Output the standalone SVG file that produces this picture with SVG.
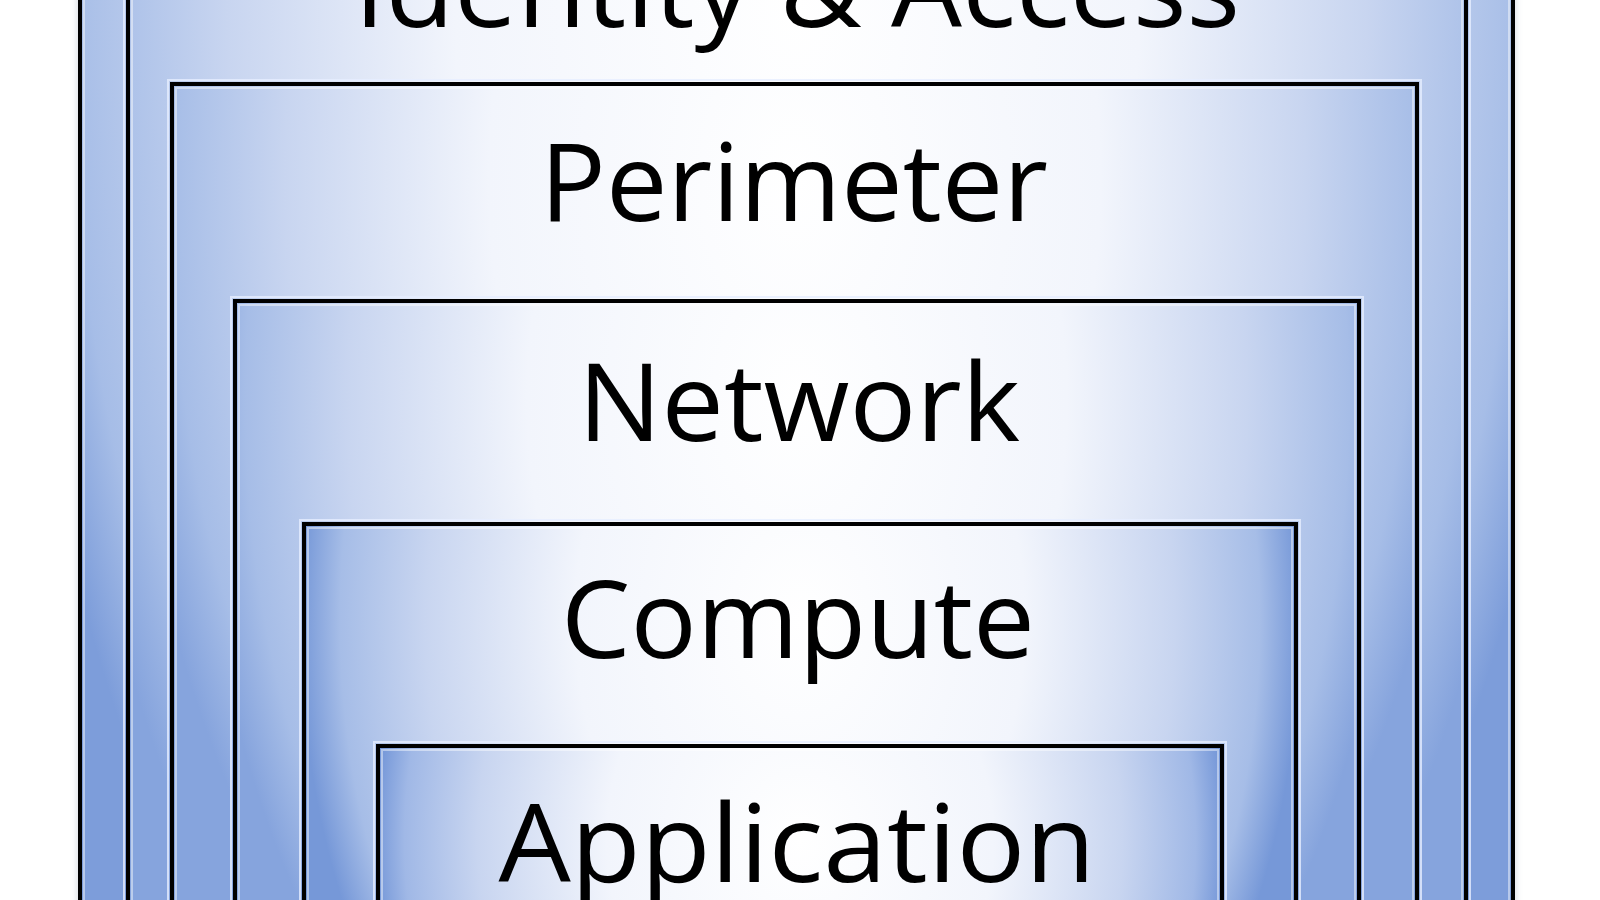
<svg xmlns="http://www.w3.org/2000/svg" width="1600" height="900" viewBox="0 0 1600 900">
  <defs>
    <radialGradient id="gOuter" gradientUnits="userSpaceOnUse" cx="0" cy="0" r="1" gradientTransform="translate(796 0) scale(790 1400)">
      <stop offset="0" stop-color="#ffffff"/><stop offset="0.45" stop-color="#f2f5fc"/><stop offset="0.75" stop-color="#c8d5f0"/><stop offset="0.92" stop-color="#a6bde7"/><stop offset="1" stop-color="#7d9dda"/>
    </radialGradient>
    <radialGradient id="gId" gradientUnits="userSpaceOnUse" cx="0" cy="0" r="1" gradientTransform="translate(797 0) scale(760 1400)">
      <stop offset="0" stop-color="#ffffff"/><stop offset="0.45" stop-color="#f2f5fc"/><stop offset="0.75" stop-color="#c8d5f0"/><stop offset="0.92" stop-color="#a6bde7"/><stop offset="1" stop-color="#86a4dd"/>
    </radialGradient>
    <radialGradient id="gPer" gradientUnits="userSpaceOnUse" cx="0" cy="0" r="1" gradientTransform="translate(795 180) scale(680 1100)">
      <stop offset="0" stop-color="#ffffff"/><stop offset="0.45" stop-color="#f2f5fc"/><stop offset="0.75" stop-color="#c8d5f0"/><stop offset="0.92" stop-color="#a6bde7"/><stop offset="1" stop-color="#86a4dd"/>
    </radialGradient>
    <radialGradient id="gNet" gradientUnits="userSpaceOnUse" cx="0" cy="0" r="1" gradientTransform="translate(797 400) scale(600 900)">
      <stop offset="0" stop-color="#ffffff"/><stop offset="0.45" stop-color="#f2f5fc"/><stop offset="0.75" stop-color="#c8d5f0"/><stop offset="0.92" stop-color="#a6bde7"/><stop offset="1" stop-color="#86a4dd"/>
    </radialGradient>
    <radialGradient id="gCom" gradientUnits="userSpaceOnUse" cx="0" cy="0" r="1" gradientTransform="translate(800 620) scale(500 700)">
      <stop offset="0" stop-color="#ffffff"/><stop offset="0.45" stop-color="#f2f5fc"/><stop offset="0.75" stop-color="#c8d5f0"/><stop offset="0.92" stop-color="#a6bde7"/><stop offset="1" stop-color="#7698d8"/>
    </radialGradient>
    <radialGradient id="gApp" gradientUnits="userSpaceOnUse" cx="0" cy="0" r="1" gradientTransform="translate(800 840) scale(430 500)">
      <stop offset="0" stop-color="#ffffff"/><stop offset="0.45" stop-color="#f2f5fc"/><stop offset="0.75" stop-color="#c8d5f0"/><stop offset="0.92" stop-color="#a0b8e6"/><stop offset="1" stop-color="#6e92d6"/>
    </radialGradient>
    <filter id="shadow" x="-10%" y="-10%" width="120%" height="120%">
      <feGaussianBlur stdDeviation="3"/>
    </filter>
  </defs>
  <style>
    .box { stroke: #000000; stroke-width: 4; }
    .hl { fill: none; stroke: #ffffff; stroke-opacity: 0.45; stroke-width: 2; }
    .glow { fill: none; stroke: #e6eeff; stroke-opacity: 0.8; stroke-width: 2; }
    .sh { fill: #6a7894; opacity: 0.25; }
    .lbl { font-family: "Open Sans", "Liberation Sans", sans-serif; font-size: 108px; fill: #000000; text-anchor: middle; }
  </style>
  <rect width="1600" height="900" fill="#ffffff"/>

  <g id="identity-outer">
    <rect class="sh" x="77" y="-364" width="1439" height="1800" filter="url(#shadow)"/>
    <rect class="box" x="80" y="-360" width="1433" height="1800" fill="url(#gOuter)"/>
    <rect class="hl" x="84" y="-356" width="1425" height="1792"/>
  </g>

  <g id="identity-access">
    <rect class="glow" x="124" y="-144" width="1346" height="1608"/>
    <rect class="box" x="128" y="-140" width="1338" height="1600" fill="url(#gId)"/>
    <rect class="hl" x="132" y="-136" width="1330" height="1592"/>
    <text class="lbl" x="797" y="27" textLength="886" lengthAdjust="spacingAndGlyphs">Identity &amp; Access</text>
  </g>

  <g id="perimeter">
    <rect class="glow" x="168" y="80" width="1253" height="1408"/>
    <rect class="box" x="172" y="84" width="1245" height="1400" fill="url(#gPer)"/>
    <rect class="hl" x="176" y="88" width="1237" height="1392"/>
    <text class="lbl" x="794" y="221" textLength="508" lengthAdjust="spacingAndGlyphs">Perimeter</text>
  </g>

  <g id="network">
    <rect class="glow" x="231" y="297" width="1132" height="1208"/>
    <rect class="box" x="235" y="301" width="1124" height="1200" fill="url(#gNet)"/>
    <rect class="hl" x="239" y="305" width="1116" height="1192"/>
    <text class="lbl" x="799" y="441" textLength="442" lengthAdjust="spacingAndGlyphs">Network</text>
  </g>

  <g id="compute">
    <rect class="glow" x="300" y="520" width="1000" height="1008"/>
    <rect class="box" x="304" y="524" width="992" height="1000" fill="url(#gCom)"/>
    <rect class="hl" x="308" y="528" width="984" height="992"/>
    <text class="lbl" x="798" y="658" textLength="474" lengthAdjust="spacingAndGlyphs">Compute</text>
  </g>

  <g id="application">
    <rect class="glow" x="374" y="742" width="852" height="808"/>
    <rect class="box" x="378" y="746" width="844" height="800" fill="url(#gApp)"/>
    <rect class="hl" x="382" y="750" width="836" height="792"/>
    <text class="lbl" x="797" y="882" textLength="597" lengthAdjust="spacingAndGlyphs">Application</text>
  </g>

  <g id="connectors"/>
</svg>
